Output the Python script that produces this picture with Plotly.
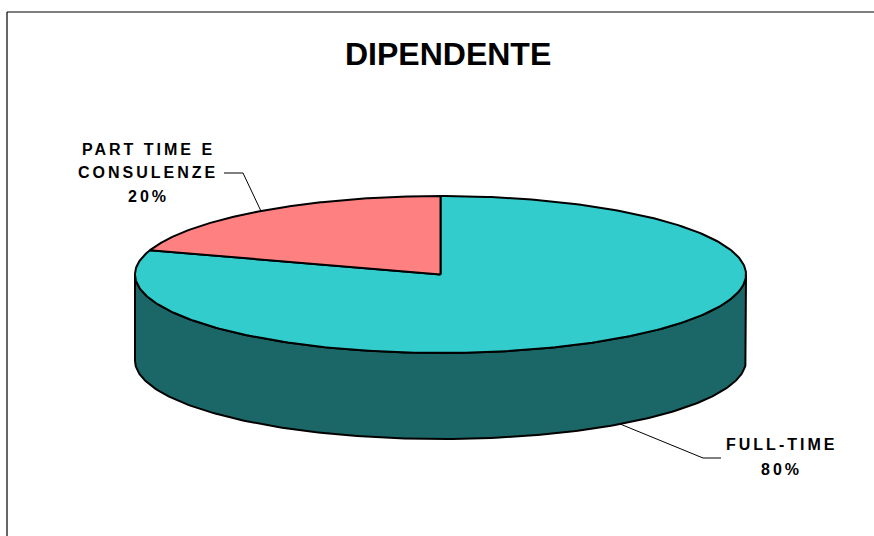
import numpy as np
import plotly.graph_objects as go

# Data
categories = ["FULL-TIME", "PART TIME E CONSULENZE"]
label_lines = [["FULL-TIME", "80%"], ["PART TIME E", "CONSULENZE", "20%"]]
values = [80, 20]
top_colors = ["#33CCCC", "#FF8080"]
side_colors = ["#1B6666", "#804040"]
title_text = "DIPENDENTE"

# Pie geometry (pixel space of the canvas)
W, H = 874, 536
cx, cy = 440.5, 274.5      # centre of the top face
rx, ry = 305.5, 78.5       # ellipse radii of the top face
depth = 86                 # thickness of the disc
start_deg = 90.0           # slices run clockwise from 12 o'clock

fracs = np.array(values, dtype=float) / np.sum(values)
bounds = start_deg - np.concatenate([[0], np.cumsum(fracs)]) * 360.0


def px(t_deg):
    t = np.radians(t_deg)
    return cx + rx * np.cos(t), cy - ry * np.sin(t)


fig = go.Figure()

# Side walls: only the front half (angles between -180 and 0) is visible
for i in range(len(values)):
    a_hi, a_lo = bounds[i], bounds[i + 1]
    for k in (-360, 0, 360):
        lo = max(a_lo, -180 + k)
        hi = min(a_hi, 0 + k)
        if hi - lo > 0.01:
            ts = np.linspace(lo, hi, 200)
            xs, ys = px(ts)
            X = np.concatenate([xs, xs[::-1], xs[:1]])
            Y = np.concatenate([ys, ys[::-1] + depth, ys[:1]])
            fig.add_trace(go.Scatter(
                x=X, y=Y, mode="lines", fill="toself",
                fillcolor=side_colors[i],
                line=dict(color="black", width=2),
                hoverinfo="skip", showlegend=False))

# Top faces
for i in range(len(values)):
    ts = np.linspace(bounds[i], bounds[i + 1], 300)
    xs, ys = px(ts)
    X = np.concatenate([[cx], xs, [cx]])
    Y = np.concatenate([[cy], ys, [cy]])
    fig.add_trace(go.Scatter(
        x=X, y=Y, mode="lines", fill="toself",
        fillcolor=top_colors[i],
        line=dict(color="black", width=2),
        hoverinfo="skip", showlegend=False, name=categories[i]))

# Leader lines from the middle of each slice to its label
mids = (bounds[:-1] + bounds[1:]) / 2.0
leader_bends = [[(703, 458), (721, 458)], [(243, 173), (224, 173)]]
for i, m in enumerate(mids):
    ax_, ay_ = px(m)
    if np.sin(np.radians(m)) < 0:
        ay_ = ay_ + depth
    pts = [(ax_, ay_)] + leader_bends[i]
    fig.add_trace(go.Scatter(
        x=[p[0] for p in pts], y=[p[1] for p in pts], mode="lines",
        line=dict(color="black", width=1),
        hoverinfo="skip", showlegend=False))

# Label text
label_pos = [(781, [444, 469]), (148, [149, 172, 196])]
annotations = []
for i, (lx, lys) in enumerate(label_pos):
    for line, ly in zip(label_lines[i], lys):
        annotations.append(dict(
            x=lx, y=ly, xref="x", yref="y", showarrow=False,
            text=f'<span style="letter-spacing:3px">{line}</span>',
            font=dict(family="Liberation Sans, Arial", size=16,
                      color="black", weight="bold"),
            xanchor="center", yanchor="middle"))

annotations.append(dict(
    x=447.5, y=54, xref="x", yref="y", showarrow=False,
    text=title_text,
    font=dict(family="Liberation Sans, Arial", size=32, color="black",
              weight="bold"),
    xanchor="center", yanchor="middle"))

# Chart-area frame (top and left edges visible)
shapes = [
    dict(type="line", xref="x", yref="y", x0=7, y0=12, x1=W, y1=12,
         line=dict(color="black", width=1.2)),
    dict(type="line", xref="x", yref="y", x0=7, y0=12, x1=7, y1=H,
         line=dict(color="black", width=1.2)),
]

fig.update_layout(
    width=W, height=H,
    margin=dict(l=0, r=0, t=0, b=0),
    paper_bgcolor="white", plot_bgcolor="white",
    xaxis=dict(range=[0, W], visible=False, fixedrange=True),
    yaxis=dict(range=[H, 0], visible=False, fixedrange=True),
    annotations=annotations,
    shapes=shapes,
)

fig.write_html("out.html")
